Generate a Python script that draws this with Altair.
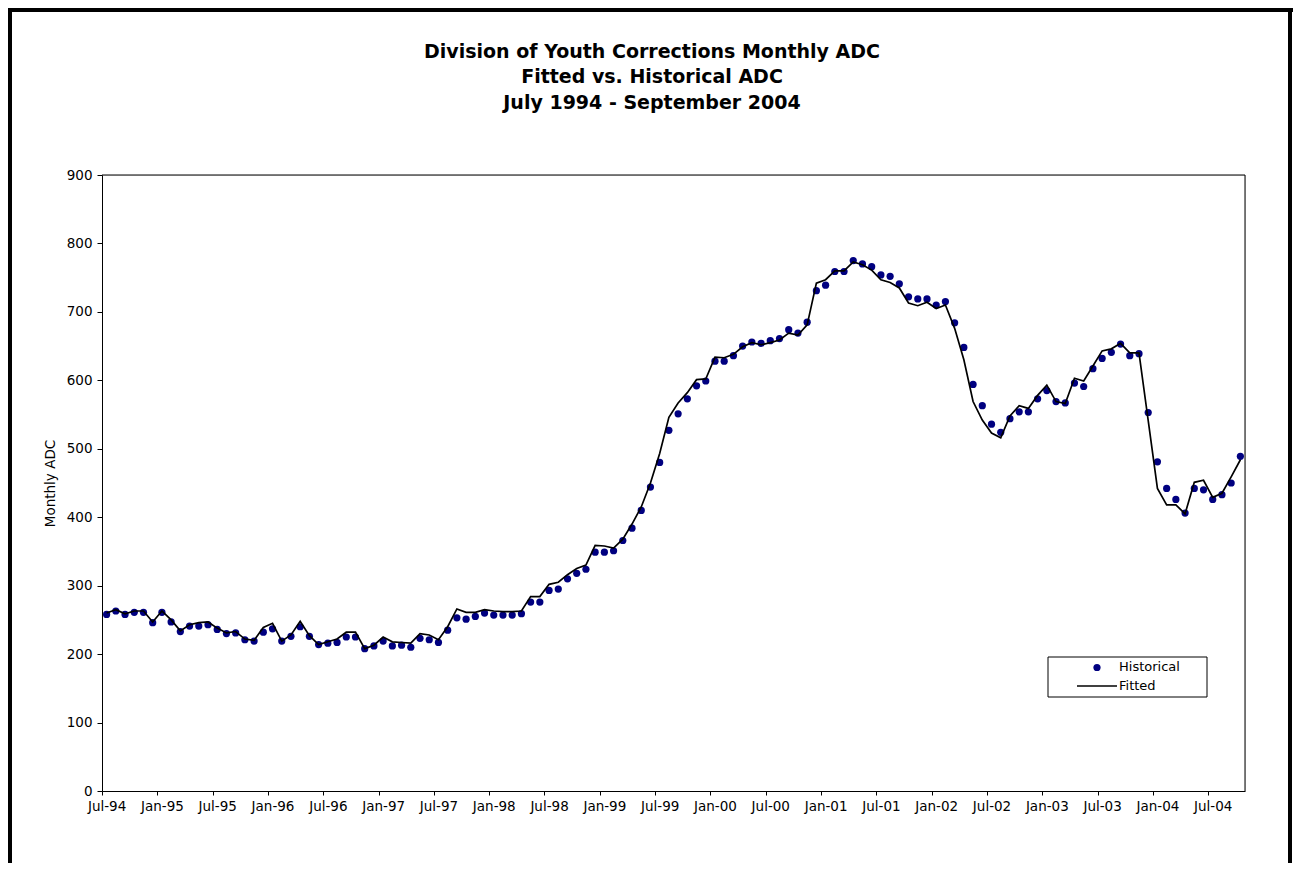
import altair as alt
import pandas as pd

# ---------------- data ----------------
months = pd.date_range("1994-07-01", periods=124, freq="MS").strftime("%b-%y").tolist()

historical = [
    258, 263, 258, 261, 261, 246, 261, 247, 233, 241, 241, 243,
    236, 230, 231, 221, 219, 232, 237, 219, 226, 240, 226, 214,
    216, 217, 225, 225, 208, 212, 219, 212, 213, 210, 223, 221,
    217, 235, 253, 251, 255, 260, 257, 257, 257, 259, 276, 276,
    293, 295, 310, 318, 324, 349, 349, 351, 366, 384, 410, 444,
    480, 527, 551, 573, 592, 599, 628, 628, 636, 650, 656, 654,
    658, 661, 674, 669, 685, 731, 739, 759, 759, 775, 770, 766,
    754, 752, 741, 722, 719, 719, 710, 715, 684, 648, 594, 563,
    536, 524, 544, 554, 554, 573, 585, 569, 567, 596, 591, 617,
    632, 641, 653, 636, 639, 553, 481, 442, 426, 406, 442, 440,
    426, 433, 450, 489,
]

fitted = [
    260, 265, 259, 263, 263, 247, 263, 250, 234, 243, 246, 247,
    238, 231, 233, 222, 220, 239, 245, 219, 228, 248, 227, 214,
    218, 222, 232, 232, 208, 213, 225, 218, 217, 216, 230, 228,
    221, 240, 266, 261, 261, 265, 263, 262, 262, 263, 284, 284,
    302, 305, 316, 325, 330, 359, 358, 355, 368, 390, 415, 450,
    493, 546, 567, 582, 601, 602, 634, 633, 638, 649, 655, 652,
    655, 659, 669, 666, 681, 742, 747, 760, 760, 773, 769, 761,
    747, 743, 735, 713, 709, 714, 705, 710, 676, 630, 569, 542,
    523, 516, 548, 563, 559, 578, 593, 569, 566, 603, 599, 621,
    643, 646, 654, 640, 640, 541, 442, 418, 418, 405, 451, 454,
    429, 435, 459, 484,
]

xtick_labels = months[::6]
ytick_values = list(range(0, 1000, 100))
legend_labels = ["Historical", "Fitted"]
title_lines = [
    "Division of Youth Corrections Monthly ADC",
    "Fitted vs. Historical ADC",
    "July 1994 - September 2004",
]

df = pd.DataFrame({
    "idx": list(range(len(months))),
    "month": months,
    "Historical": historical,
    "Fitted": fitted,
})

FONT = "DejaVu Sans"
NAVY = "#000080"
W, H = 1143, 616

label_js = "[" + ",".join(f"'{l}'" for l in xtick_labels) + "]"
x_axis = alt.Axis(
    values=[i - 0.5 for i in range(0, len(months), 6)],
    labelExpr=f"{label_js}[round((datum.value + 0.5) / 6)]",
    labelOffset=W / len(months) / 2,
    tickSize=4, labelPadding=4, labelFontSize=13.5, labelFont=FONT,
    labelColor="black", tickColor="black", domainColor="black",
    grid=False, title=None, labelOverlap=False, labelFlush=False,
)
y_axis = alt.Axis(
    values=ytick_values, tickSize=5, labelPadding=5, labelFontSize=13.5,
    labelFont=FONT, labelColor="black", tickColor="black",
    domainColor="black", grid=False, title="Monthly ADC",
    titleFont=FONT, titleFontSize=13.5, titleFontWeight="normal",
    titleColor="black", titlePadding=9,
)

x_enc = alt.X("idx:Q", scale=alt.Scale(domain=[-0.5, len(months) - 0.5], nice=False, zero=False), axis=x_axis)
y_scale = alt.Scale(domain=[0, 900], nice=False)

points = alt.Chart(df).mark_point(filled=True, size=52, color=NAVY, opacity=1).encode(
    x=x_enc,
    y=alt.Y("Historical:Q", scale=y_scale, axis=y_axis),
)

line = alt.Chart(df).mark_line(color="black", strokeWidth=1.7).encode(
    x=alt.X("idx:Q"),
    y=alt.Y("Fitted:Q"),
)

one = pd.DataFrame({"k": [0]})

# outer figure frame
frame_left = alt.Chart(one).mark_rule(color="black", strokeWidth=4).encode(
    x=alt.value(-92), y=alt.value(-170), y2=alt.value(720))
frame_top = alt.Chart(one).mark_rule(color="black", strokeWidth=4).encode(
    x=alt.value(-94), x2=alt.value(1191), y=alt.value(-165))
frame_right = alt.Chart(one).mark_rule(color="black", strokeWidth=4).encode(
    x=alt.value(1188), y=alt.value(-170), y2=alt.value(720))

# plot-area border (top and right)
plot_top = alt.Chart(one).mark_rule(color="black", strokeWidth=1).encode(
    x=alt.value(0), x2=alt.value(W), y=alt.value(0))
plot_right = alt.Chart(one).mark_rule(color="black", strokeWidth=1).encode(
    x=alt.value(W), y=alt.value(0), y2=alt.value(H))

# title lines
title_layers = [
    alt.Chart(one).mark_text(
        align="center", baseline="alphabetic", font=FONT, fontSize=19,
        fontWeight="bold", color="black",
    ).encode(x=alt.value(550), y=alt.value(yy), text=alt.value(t))
    for t, yy in zip(title_lines, [-117.5, -91.8, -66.1])
]

# legend
leg_box = alt.Chart(one).mark_rect(fill="white", stroke="black", strokeWidth=1).encode(
    x=alt.value(946), x2=alt.value(1105), y=alt.value(482), y2=alt.value(522))
leg_dot = alt.Chart(one).mark_point(filled=True, size=52, color=NAVY, opacity=1).encode(
    x=alt.value(995), y=alt.value(492.5))
leg_line = alt.Chart(one).mark_rule(color="black", strokeWidth=1.7).encode(
    x=alt.value(975), x2=alt.value(1015), y=alt.value(511))
leg_texts = [
    alt.Chart(one).mark_text(
        align="left", baseline="middle", font=FONT, fontSize=13, color="black"
    ).encode(x=alt.value(1017), y=alt.value(yy), text=alt.value(t))
    for t, yy in zip(legend_labels, [492, 511])
]

chart = alt.layer(
    points, line, plot_top, plot_right, frame_left, frame_top, frame_right,
    *title_layers, leg_box, leg_dot, leg_line, *leg_texts,
).properties(
    width=W, height=H,
    autosize=alt.AutoSizeParams(type="none"),
    padding={"left": 94, "top": 167, "right": 48, "bottom": 72},
).configure_view(
    stroke=None,
).configure(background="white")

chart.save("out.html", embed_options={"renderer": "svg", "actions": False})
